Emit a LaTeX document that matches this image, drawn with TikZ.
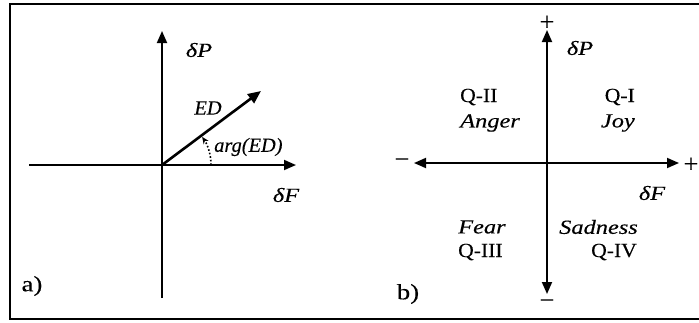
\documentclass[tikz,border=0pt]{standalone}
\usepackage{fontspec}
\setmainfont{Liberation Serif}[FakeStretch=1.08,FakeBold=0.25]
\newfontfamily\emofont{Liberation Serif}[FakeStretch=1.22,FakeBold=0.25]
\newfontfamily\argfont{Liberation Serif}[FakeStretch=1.02,FakeBold=0.25]
\usetikzlibrary{arrows.meta}

\begin{document}
\begin{tikzpicture}[x=1pt,y=-1pt,
  every node/.style={inner sep=0pt,font=\fontsize{20}{22}\selectfont},
  axis/.style={line width=1.8pt,-{Triangle[length=12pt,width=10pt]}},
  bothaxis/.style={line width=1.8pt,{Triangle[length=12pt,width=10pt]}-{Triangle[length=12pt,width=10pt]}},
  vec/.style={line width=2.6pt,-{Triangle[length=13pt,width=11pt]}},
  quad/.style={font=\fontsize{20}{22}\selectfont},
  emo/.style={font=\fontsize{20}{22}\selectfont\emofont\itshape},
  veclbl/.style={font=\fontsize{20}{22}\selectfont\argfont\itshape},
  sign/.style={font=\fontsize{26}{28}\selectfont\argfont},
  panel/.style={font=\fontsize{22}{24}\selectfont\emofont}]
\useasboundingbox (0,0) rectangle (699,322);
% frame
\draw[line width=1.5pt] (699,4) -- (10,4) -- (10,319) -- (699,319);

% a) the vector ED
\coordinate (oa) at (162,165);
\coordinate (aw) at (29,165);
\coordinate (ae) at (296,165);
\coordinate (an) at (162,31);
\coordinate (as) at (162,298);
\coordinate (ed) at (261,91);
\coordinate (arcstart) at (211,165);
\draw[axis] (as) -- (an);
\draw[axis] (aw) -- (ae);
\draw[vec] (oa) -- (ed);
\draw[line width=1.6pt,dash pattern=on 1.6pt off 2pt,-{Stealth[length=7pt,width=6pt]}] (arcstart) arc[start angle=0,end angle=-35,radius=49];
\node[emo] (dpa) at (199,50) {δP};
\node[emo] (dfa) at (286,195) {δF};
\node[veclbl] (edl) at (208,108) {ED};
\node[veclbl,anchor=west] (argl) at (214,147) {arg(ED)};
\node[panel] (la) at (32,286) {a)};

% b) the four quadrants
\coordinate (ob) at (547,163);
\coordinate (bw) at (414,163);
\coordinate (be) at (679,163);
\coordinate (bn) at (547,30);
\coordinate (bs) at (547,294);
\draw[bothaxis] (bs) -- (bn);
\draw[bothaxis] (bw) -- (be);
\node[sign] (pn) at (547,23) {+};
\node[sign] (ms) at (547,304) {−};
\node[sign] (mw) at (402,163) {−};
\node[sign] (pe) at (691,165) {+};
\node[emo] (dpb) at (580,48) {δP};
\node[emo] (dfb) at (652,193) {δF};
\node[quad,anchor=west] (q2) at (460,97) {Q-II};
\node[emo,anchor=west] (anger) at (460,123) {Anger};
\node[quad,anchor=east] (q1) at (635,97) {Q-I};
\node[emo,anchor=east] (joy) at (635,123) {Joy};
\node[emo,anchor=west] (fear) at (458,227) {Fear};
\node[quad,anchor=west] (q3) at (458,252) {Q-III};
\node[emo,anchor=east] (sad) at (638,227) {Sadness};
\node[quad,anchor=east] (q4) at (637,252) {Q-IV};
\node[panel] (lb) at (408,294) {b)};
\end{tikzpicture}
\end{document}
